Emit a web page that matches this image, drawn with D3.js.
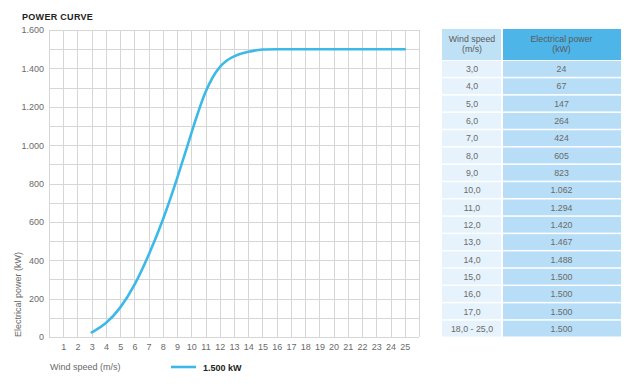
<!DOCTYPE html>
<html>
<head>
<meta charset="utf-8">
<script src="https://cdn.jsdelivr.net/npm/d3@7"></script>
<style>
  body { margin: 0; background: #fff; }
  svg { display: block; font-family: "Liberation Sans", Arial, sans-serif; }
</style>
</head>
<body>
<div id="container"></div>
<script>
/* DATA */
const speedLabels = ["3,0", "4,0", "5,0", "6,0", "7,0", "8,0", "9,0", "10,0", "11,0", "12,0", "13,0", "14,0", "15,0", "16,0", "17,0", "18,0 - 25,0"];
const powerLabels = ["24", "67", "147", "264", "424", "605", "823", "1.062", "1.294", "1.420", "1.467", "1.488", "1.500", "1.500", "1.500", "1.500"];
const speeds = [3, 4, 5, 6, 7, 8, 9, 10, 11, 12, 13, 14, 15, 16, 17, 18, 25];
const power = [24, 67, 147, 264, 424, 605, 823, 1062, 1294, 1420, 1467, 1488, 1500, 1500, 1500, 1500, 1500];
const xTicks = d3.range(1, 26);
const yTicks = [0, 200, 400, 600, 800, 1000, 1200, 1400, 1600];

const W = 629, H = 388;
const plot = { left: 49, right: 419, top: 30, bottom: 337 };

const svg = d3.select("#container").append("svg")
  .attr("width", W)
  .attr("height", H);

// SCALES
const x = d3.scaleLinear().domain([0, 26]).range([plot.left, plot.right]);
const y = d3.scaleLinear().domain([0, 1600]).range([plot.bottom, plot.top]);

// GRID
const grid = svg.append("g").attr("stroke", "#d6d6d6").attr("stroke-width", 1);
grid.selectAll("line.v")
  .data(d3.range(0, 27))
  .join("line")
  .attr("x1", d => Math.round(x(d)) + 0.5)
  .attr("x2", d => Math.round(x(d)) + 0.5)
  .attr("y1", plot.top)
  .attr("y2", plot.bottom);
grid.selectAll("line.h")
  .data(d3.range(0, 1700, 100))
  .join("line")
  .attr("x1", plot.left)
  .attr("x2", plot.right)
  .attr("y1", d => Math.round(y(d)) + 0.5)
  .attr("y2", d => Math.round(y(d)) + 0.5);

// Y AXIS
const fmt = d => d >= 1000 ? d3.format(",")(d).replace(",", ".") : String(d);
const yAxis = svg.append("g")
  .attr("transform", "translate(" + plot.left + ",0)")
  .call(d3.axisLeft(y).tickValues(yTicks).tickFormat(fmt).tickSize(0).tickPadding(5));
yAxis.select(".domain").remove();
yAxis.selectAll("text").attr("fill", "#6a6a6a").attr("font-size", 9);

// X AXIS
const xAxis = svg.append("g")
  .attr("transform", "translate(0," + plot.bottom + ")")
  .call(d3.axisBottom(x).tickValues(xTicks).tickSize(0).tickPadding(7));
xAxis.select(".domain").remove();
xAxis.selectAll("text").attr("fill", "#6a6a6a").attr("font-size", 9);

// LINE
const line = d3.line()
  .x((d, i) => x(speeds[i]))
  .y(d => y(d))
  .curve(d3.curveBasis);
svg.append("path")
  .datum(power)
  .attr("fill", "none")
  .attr("stroke", "#3cb9e8")
  .attr("stroke-width", 2.6)
  .attr("stroke-linecap", "round")
  .attr("d", line);

// TITLES
svg.append("text")
  .attr("x", 22).attr("y", 19.5)
  .attr("font-size", 9).attr("font-weight", "bold")
  .attr("letter-spacing", 0.3)
  .attr("fill", "#222")
  .text("POWER CURVE");

svg.append("text")
  .attr("transform", "translate(21," + plot.bottom + ") rotate(-90)")
  .attr("font-size", 9).attr("fill", "#6a6a6a")
  .text("Electrical power (kW)");

svg.append("text")
  .attr("x", 50).attr("y", 370)
  .attr("font-size", 9).attr("fill", "#6a6a6a")
  .text("Wind speed (m/s)");

// LEGEND
svg.append("line")
  .attr("x1", 171).attr("x2", 196)
  .attr("y1", 367).attr("y2", 367)
  .attr("stroke", "#3cb9e8").attr("stroke-width", 2.6);
svg.append("text")
  .attr("x", 203).attr("y", 370.5)
  .attr("font-size", 9).attr("font-weight", "bold").attr("fill", "#222")
  .text("1.500 kW");

// TABLE
const tbl = { left: 442, mid: 502, right: 621, top: 29, headBottom: 60, bottom: 338 };
const rowY = d3.scaleBand()
  .domain(d3.range(speedLabels.length))
  .range([tbl.headBottom + 1, tbl.bottom]);
const table = svg.append("g").attr("font-size", 8.8).attr("text-anchor", "middle");

table.append("rect")
  .attr("x", tbl.left).attr("y", tbl.top)
  .attr("width", tbl.mid - tbl.left - 1).attr("height", tbl.headBottom - tbl.top)
  .attr("fill", "#bfe1f6");
table.append("rect")
  .attr("x", tbl.mid + 1).attr("y", tbl.top)
  .attr("width", tbl.right - tbl.mid - 1).attr("height", tbl.headBottom - tbl.top)
  .attr("fill", "#4db5e8");
const c1 = (tbl.left + tbl.mid) / 2, c2 = (tbl.mid + tbl.right) / 2;
[["Wind speed", "(m/s)", c1], ["Electrical power", "(kW)", c2]].forEach(([a, b, cx]) => {
  table.append("text").attr("x", cx).attr("y", 42).attr("fill", "#5a5a5a").text(a);
  table.append("text").attr("x", cx).attr("y", 52).attr("fill", "#5a5a5a").text(b);
});

const rows = table.selectAll("g.row")
  .data(speedLabels)
  .join("g")
  .attr("transform", (d, i) => "translate(0," + rowY(i) + ")");
rows.append("rect")
  .attr("x", tbl.left).attr("width", tbl.mid - tbl.left - 1)
  .attr("height", rowY.bandwidth() - 1.5)
  .attr("fill", "#e6f3fc");
rows.append("rect")
  .attr("x", tbl.mid + 1).attr("width", tbl.right - tbl.mid - 1)
  .attr("height", rowY.bandwidth() - 1.5)
  .attr("fill", "#b7def6");
rows.append("text")
  .attr("x", c1).attr("y", rowY.bandwidth() / 2 + 2.5)
  .attr("fill", "#6a6a6a")
  .text(d => d);
rows.append("text")
  .attr("x", c2).attr("y", rowY.bandwidth() / 2 + 2.5)
  .attr("fill", "#6a6a6a")
  .text((d, i) => powerLabels[i]);
</script>
</body>
</html>
